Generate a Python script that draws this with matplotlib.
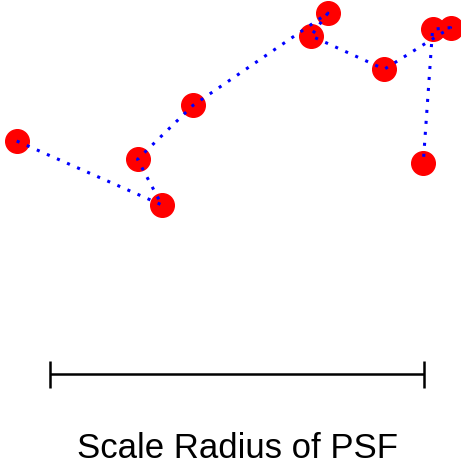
import matplotlib
matplotlib.use("Agg")
import matplotlib.pyplot as plt

# Offsets of successive centroid positions, in units of the PSF scale radius
x_pos = [-0.089, 0.299, 0.234, 0.382, 0.743, 0.698, 0.894, 1.071, 1.023, 0.998]
y_pos = [0.877, 0.706, 0.828, 0.972, 1.219, 1.158, 1.069, 1.180, 1.176, 0.819]

scale_len = 1.0
scale_label = "Scale Radius of PSF"

W, H, DPI = 461, 469, 100
fig = plt.figure(figsize=(W / DPI, H / DPI), dpi=DPI)
ax = fig.add_axes([0, 0, 1, 1])
ax.set_axis_off()

px_per_unit = 374.0
x0_px = 50.0
ax.set_xlim(-x0_px / px_per_unit, (W - x0_px) / px_per_unit)
ax.set_ylim(0, H / px_per_unit)

ax.plot(x_pos, y_pos, linestyle="none", marker="o", markersize=17,
        markerfacecolor="#ff0000", markeredgecolor="#ff0000", zorder=2)
ax.plot(x_pos, y_pos, color="#0000ff", linewidth=2.2,
        linestyle=(0, (1.0, 2.6)), zorder=3)

# scale bar
bar_y = (H - 374) / px_per_unit
tick_h = 13.5 / px_per_unit
ax.plot([0, scale_len], [bar_y, bar_y], color="black", lw=1.8, solid_capstyle="butt")
for xv in (0, scale_len):
    ax.plot([xv, xv], [bar_y - tick_h, bar_y + tick_h], color="black", lw=1.8,
            solid_capstyle="butt")

ax.text(scale_len / 2, (H - 448) / px_per_unit, scale_label,
        ha="center", va="center", fontsize=25, family="Liberation Sans")

fig.savefig("out.png", dpi=DPI)
